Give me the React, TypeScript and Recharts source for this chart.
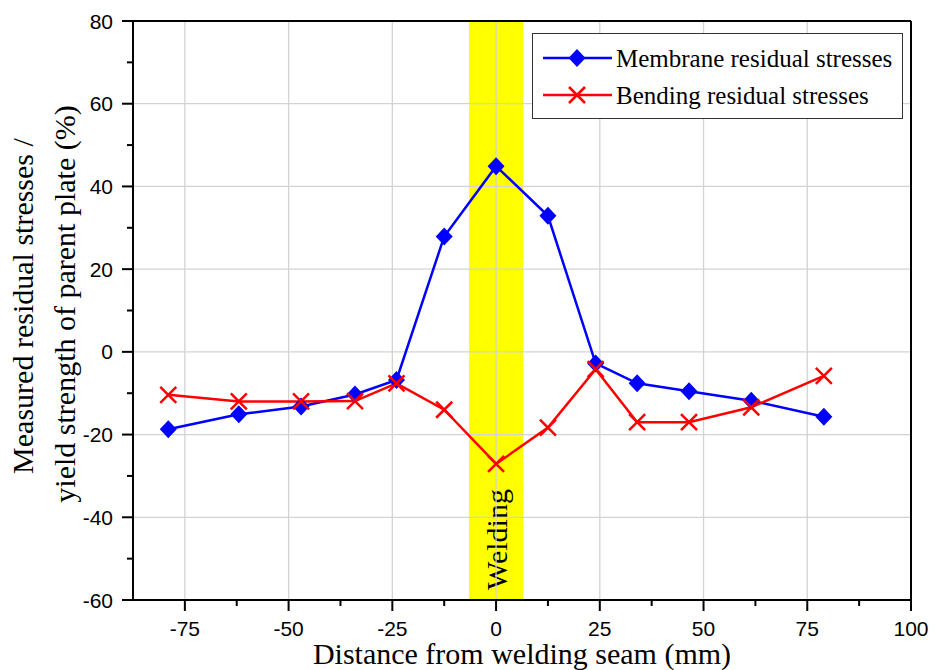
import React from "react";
import { LineChart, Line, XAxis, YAxis, ReferenceLine, ReferenceArea, Label } from "recharts";

// distance from the weld seam (mm) and stress ratios (%)
const distance = [-79, -62, -47, -34, -24, -12.5, 0, 12.5, 24, 34, 46.5, 61.5, 79];
const membrane = [-18.7, -15.1, -13.2, -10.3, -6.8, 27.9, 44.9, 32.9, -2.8, -7.6, -9.5, -11.8, -15.7];
const bending = [-10.4, -12.0, -12.0, -11.9, -7.6, -14.0, -27.1, -18.3, -4.2, -17.0, -17.0, -13.4, -5.8];

const xTicks = [-75, -62.5, -50, -37.5, -25, -12.5, 0, 12.5, 25, 37.5, 50, 62.5, 75, 87.5, 100];
const yTicks = [-60, -50, -40, -30, -20, -10, 0, 10, 20, 30, 40, 50, 60, 70, 80];
const xGrid = [-75, -50, -25, 0, 25, 50, 75];
const yGrid = [-40, -20, 0, 20, 40, 60];
const weldZone = [-6.5, 6.5];

const data = distance.map((d, i) => ({ d, membrane: membrane[i], bending: bending[i] }));

const SANS = "'Liberation Sans', Arial, sans-serif";
const SERIF = "'Liberation Serif', 'Times New Roman', serif";
const BLUE = "#0000ff";
const RED = "#ff0000";

const XTick = ({ x, y, payload }: any) => {
  const major = payload.value % 25 === 0;
  return (
    <g>
      <line x1={x} x2={x} y1={y} y2={y + (major ? 11 : 6)} stroke="#000" strokeWidth={2} />
      {major && (
        <text x={x} y={y + 36} textAnchor="middle" fontFamily={SANS} fontSize={21} fill="#000">
          {payload.value}
        </text>
      )}
    </g>
  );
};

const YTick = ({ x, y, payload }: any) => {
  const major = payload.value % 20 === 0;
  return (
    <g>
      <line x1={x - (major ? 11 : 6)} x2={x} y1={y} y2={y} stroke="#000" strokeWidth={2} />
      {major && (
        <text x={x - 20} y={y + 7.5} textAnchor="end" fontFamily={SANS} fontSize={21} fill="#000">
          {payload.value}
        </text>
      )}
    </g>
  );
};

const Diamond = (props: any) => {
  const { cx, cy, index } = props;
  if (cx == null || cy == null) return <g key={index} />;
  return (
    <path
      key={index}
      d={`M${cx},${cy - 9} L${cx + 8.5},${cy} L${cx},${cy + 9} L${cx - 8.5},${cy} Z`}
      fill={BLUE}
    />
  );
};

const Cross = (props: any) => {
  const { cx, cy, index } = props;
  if (cx == null || cy == null) return <g key={index} />;
  return (
    <path
      key={index}
      d={`M${cx - 8},${cy - 8} L${cx + 8},${cy + 8} M${cx - 8},${cy + 8} L${cx + 8},${cy - 8}`}
      stroke={RED}
      strokeWidth={2.5}
      fill="none"
    />
  );
};

const XTitle = ({ viewBox }: any) => (
  <text
    x={viewBox.x + viewBox.width / 2}
    y={viewBox.y + 64}
    textAnchor="middle"
    fontFamily={SERIF}
    fontSize={30}
    fill="#000"
  >
    Distance from welding seam (mm)
  </text>
);

const YTitle = () => (
  <g fontFamily={SERIF} fontSize={30} fill="#000">
    <text x={33} y={306} textAnchor="middle" transform="rotate(-90 33 306)">
      Measured residual stresses /
    </text>
    <text x={75} y={304} textAnchor="middle" transform="rotate(-90 75 304)">
      yield strength of parent plate (%)
    </text>
  </g>
);

const WeldLabel = ({ viewBox }: any) => {
  const tx = viewBox.x + viewBox.width / 2 + 11;
  const ty = viewBox.y + viewBox.height - 10;
  return (
    <text
      x={tx}
      y={ty}
      transform={`rotate(-90 ${tx} ${ty})`}
      textAnchor="start"
      fontFamily={SERIF}
      fontSize={30}
      fill="#000"
    >
      Welding
    </text>
  );
};

const LegendBox = () => (
  <svg width={372} height={87} style={{ position: "absolute", left: 532, top: 33 }}>
    <rect x={0.5} y={0.5} width={370} height={85} fill="#fff" stroke="#333" strokeWidth={1} />
    <line x1={11} x2={80} y1={25} y2={25} stroke={BLUE} strokeWidth={2.5} />
    <path d="M45,16 L53.5,25 L45,34 L36.5,25 Z" fill={BLUE} />
    <text x={84} y={34} fontFamily={SERIF} fontSize={25} fill="#000">
      Membrane residual stresses
    </text>
    <line x1={11} x2={80} y1={62} y2={62} stroke={RED} strokeWidth={2.5} />
    <path d="M37,54 L53,70 M37,70 L53,54" stroke={RED} strokeWidth={2.5} />
    <text x={84} y={71} fontFamily={SERIF} fontSize={25} fill="#000">
      Bending residual stresses
    </text>
  </svg>
);

export default function App() {
  return (
    <div style={{ position: "absolute", left: 0, top: 0, width: 935, height: 670, background: "#fff" }}>
      <LineChart width={935} height={670} data={data} margin={{ top: 21, right: 24, left: 0, bottom: 0 }}>
        <ReferenceArea x1={weldZone[0]} x2={weldZone[1]} fill="#ffff00" fillOpacity={1} stroke="none" label={<WeldLabel />} />
        {xGrid.map((v) => (
          <ReferenceLine key={`gx${v}`} x={v} stroke="#d3d3d3" strokeWidth={1.3} />
        ))}
        {yGrid.map((v) => (
          <ReferenceLine key={`gy${v}`} y={v} stroke="#d3d3d3" strokeWidth={1.3} />
        ))}
        <ReferenceLine y={80} stroke="#000" strokeWidth={2} />
        <ReferenceLine x={100} stroke="#000" strokeWidth={2} />
        <XAxis
          dataKey="d"
          type="number"
          domain={[-87.5, 100]}
          ticks={xTicks}
          interval={0}
          height={70}
          tickSize={0}
          tickMargin={0}
          tickLine={false}
          axisLine={{ stroke: "#000", strokeWidth: 2 }}
          tick={<XTick />}
          label={<Label content={<XTitle />} />}
        />
        <YAxis
          type="number"
          domain={[-60, 80]}
          ticks={yTicks}
          interval={0}
          width={133}
          tickSize={0}
          tickMargin={0}
          tickLine={false}
          axisLine={{ stroke: "#000", strokeWidth: 2 }}
          tick={<YTick />}
          label={<Label content={<YTitle />} />}
        />
        <Line dataKey="membrane" stroke={BLUE} strokeWidth={2.5} dot={Diamond} activeDot={false} isAnimationActive={false} />
        <Line dataKey="bending" stroke={RED} strokeWidth={2.5} dot={Cross} activeDot={false} isAnimationActive={false} />
      </LineChart>
      <LegendBox />
    </div>
  );
}
